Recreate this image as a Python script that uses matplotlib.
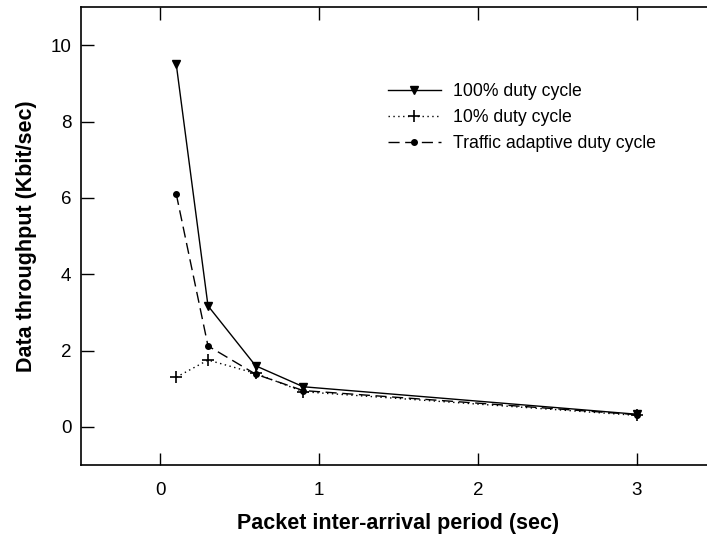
import matplotlib
matplotlib.use("Agg")
import matplotlib.pyplot as plt

plt.rcParams['font.family'] = ['Liberation Sans', 'DejaVu Sans']

x = [0.1, 0.3, 0.6, 0.9, 3.0]
full_duty = [9.5, 3.17, 1.6, 1.05, 0.33]
ten_duty = [1.3, 1.75, 1.4, 0.92, 0.30]
adaptive = [6.1, 2.12, 1.38, 0.95, 0.32]

xticks = [0, 1, 2, 3]
yticks = [0, 2, 4, 6, 8, 10]

fig = plt.figure(figsize=(7.07, 5.40), dpi=100)
ax = fig.add_axes([81/707, 75/540, 635/707, 458/540])

ax.plot(x, full_duty, color='black', lw=1.0, ls='-', marker='v', ms=6,
        label='100% duty cycle')
ax.plot(x, ten_duty, color='black', lw=1.0, ls=(0, (1, 2.5)), marker='+', ms=8,
        mew=1.2, label='10% duty cycle')
ax.plot(x, adaptive, color='black', lw=1.0, ls=(0, (8, 4)), marker='o', ms=4,
        label='Traffic adaptive duty cycle')

ax.set_xlim(-0.5, 3.5)
ax.set_ylim(-1, 11)
ax.set_xticks(xticks)
ax.set_yticks(yticks)
ax.tick_params(direction='in', length=9, width=1.0, labelsize=13.5,
               top=True, right=False, pad=12)
ax.tick_params(axis='y', pad=7)
for s in ax.spines.values():
    s.set_linewidth(1.2)

ax.set_xlabel('Packet inter-arrival period (sec)', fontsize=15.5, fontweight='bold',
              labelpad=10)
ax.set_ylabel('Data throughput (Kbit/sec)', fontsize=15.5, fontweight='bold',
              labelpad=10)

leg = ax.legend(loc='upper left', bbox_to_anchor=(0.483, 0.834), frameon=False,
                borderpad=0, borderaxespad=0,
                fontsize=12.7, handlelength=3.0, handletextpad=0.7, labelspacing=0.52)

fig.savefig('out.png', dpi=100)
